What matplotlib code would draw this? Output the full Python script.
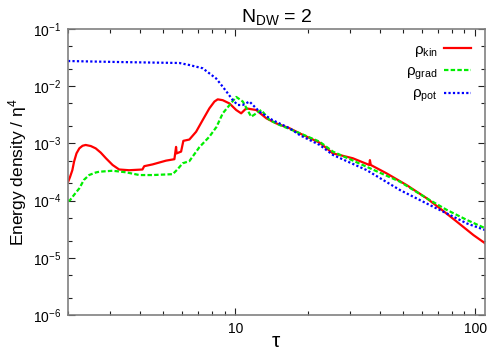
import matplotlib
matplotlib.use('Agg')
import matplotlib.pyplot as plt
from matplotlib.ticker import LogLocator, FuncFormatter, NullFormatter

plt.rcParams['font.family'] = ['Liberation Sans', 'DejaVu Sans']
plt.rcParams['mathtext.fontset'] = 'custom'
plt.rcParams['mathtext.rm'] = 'Liberation Sans'
plt.rcParams['mathtext.it'] = 'Liberation Sans:italic'
plt.rcParams['mathtext.default'] = 'regular'
plt.rcParams['axes.unicode_minus'] = False

# values
tau_kin = [2.0, 2.04, 2.085, 2.12, 2.17, 2.23, 2.30, 2.37, 2.49, 2.61, 2.74, 2.88,
           3.07, 3.27, 3.60, 4.09, 4.16, 4.51, 5.13, 5.56, 5.65, 5.68, 5.93, 6.06,
           6.42, 6.85, 7.30, 7.78, 8.17, 8.43, 8.85, 9.44, 10.07, 10.56, 11.09, 12.21,
           13.45, 14.80, 16.83, 18.53, 22.46, 25.5, 30.9, 36.2, 36.4, 36.7, 42.7,
           51.8, 62.8, 71.4, 83.8, 98.4, 110]
rho_kin = [2.1e-4, 2.6e-4, 3.4e-4, 4.8e-4, 6.7e-4, 8.2e-4, 9.1e-4, 9.4e-4, 9.0e-4,
           8.2e-4, 6.9e-4, 5.5e-4, 4.2e-4, 3.5e-4, 3.4e-4, 3.5e-4, 4.0e-4, 4.3e-4,
           5.0e-4, 5.3e-4, 8.7e-4, 6.7e-4, 7.2e-4, 1.11e-3, 1.17e-3, 1.6e-3, 2.57e-3,
           4.1e-3, 5.4e-3, 5.9e-3, 5.7e-3, 5.0e-3, 3.84e-3, 3.36e-3, 4.1e-3, 3.84e-3,
           2.75e-3, 2.24e-3, 1.84e-3, 1.50e-3, 1.03e-3, 6.7e-4, 5.5e-4, 4.2e-4,
           5.1e-4, 4.2e-4, 3.0e-4, 1.87e-4, 1.10e-4, 7.3e-5, 4.3e-5, 2.5e-5, 1.8e-5]

tau_grad = [2.0, 2.04, 2.12, 2.23, 2.33, 2.45, 2.61, 2.70, 3.07, 3.49, 3.97, 4.51,
            5.47, 5.72, 6.02, 6.42, 7.07, 7.78, 8.33, 8.85, 10.07, 10.73, 11.63,
            12.81, 13.88, 15.28, 17.95, 22.46, 25.5, 35.2, 48.6, 62.8, 76.1, 92.3, 110]
rho_grad = [9.8e-5, 1.02e-4, 1.26e-4, 1.64e-4, 2.3e-4, 2.8e-4, 3.1e-4, 3.2e-4,
            3.33e-4, 3.13e-4, 2.8e-4, 2.8e-4, 2.9e-4, 3.5e-4, 4.5e-4, 4.9e-4, 8.6e-4,
            1.31e-3, 1.94e-3, 3.36e-3, 6.5e-3, 5.4e-3, 2.93e-3, 3.84e-3, 2.56e-3,
            2.1e-3, 1.60e-3, 1.07e-3, 7.2e-4, 3.92e-4, 2.14e-4, 1.10e-4, 6.9e-5,
            4.6e-5, 3.3e-5]

tau_pot = [2.0, 3.27, 5.83, 6.42, 7.30, 7.78, 8.30, 8.85, 9.29, 9.75, 10.22, 10.73,
           11.44, 12.60, 14.28, 16.83, 18.53, 22.46, 25.5, 35.2, 48.6, 66.9, 78.6,
           92.3, 110]
rho_pot = [2.76e-2, 2.65e-2, 2.55e-2, 2.35e-2, 2.06e-2, 1.68e-2, 1.37e-2, 9.8e-3,
           7.5e-3, 5.7e-3, 4.7e-3, 4.7e-3, 5.4e-3, 3.58e-3, 2.56e-3, 1.84e-3,
           1.40e-3, 9.4e-4, 6.3e-4, 3.43e-4, 1.53e-4, 7.8e-5, 5.6e-5, 4.0e-5, 3.06e-5]

fig = plt.figure(figsize=(5, 3.5), dpi=100)
ax = fig.add_axes([0.136, 0.1, 0.834, 0.817])

ax.plot(tau_kin, rho_kin, color='#ff0000', lw=1.6, label=r'$\rho_{kin}$')
ax.plot(tau_grad, rho_grad, color='#00ee00', lw=1.6, ls=(0, (2, 1)), label=r'$\rho_{grad}$')
ax.plot(tau_pot, rho_pot, color='#0000ff', lw=1.6, ls=(0, (1, 1)), label=r'$\rho_{pot}$')

ax.set_xscale('log')
ax.set_yscale('log')
ax.set_xlim(2, 110)
ax.set_ylim(1e-6, 1e-1)

ax.xaxis.set_major_locator(LogLocator(base=10))
ax.xaxis.set_minor_locator(LogLocator(base=10, subs=range(2, 10)))
ax.xaxis.set_major_formatter(FuncFormatter(lambda v, p: '%d' % round(v)))
ax.xaxis.set_minor_formatter(NullFormatter())
ax.yaxis.set_major_locator(LogLocator(base=10, numticks=10))
ax.yaxis.set_minor_locator(LogLocator(base=10, subs=[2, 5], numticks=10))
ax.yaxis.set_minor_formatter(NullFormatter())

ax.tick_params(which='both', direction='in', top=True, right=True, labelsize=10,
               color='#222222')
ax.tick_params(which='major', length=5, width=0.8, pad=5)
ax.tick_params(which='minor', length=3, width=0.8)
for s in ax.spines.values():
    s.set_color('#808080')
    s.set_linewidth(1.2)

ax.set_title(r'$N_{DW}$ = 2', fontsize=14, pad=5)
ax.set_ylabel(r'Energy density / $\eta^4$', fontsize=12.5, labelpad=3)
ax.set_xlabel(r'$\tau$', fontsize=15, labelpad=-3)

ax.legend(loc='upper right', frameon=False, markerfirst=False, fontsize=11,
          handlelength=1.8, handletextpad=0.4, labelspacing=0.35,
          borderaxespad=0.5)

fig.savefig('out.png', dpi=100)
